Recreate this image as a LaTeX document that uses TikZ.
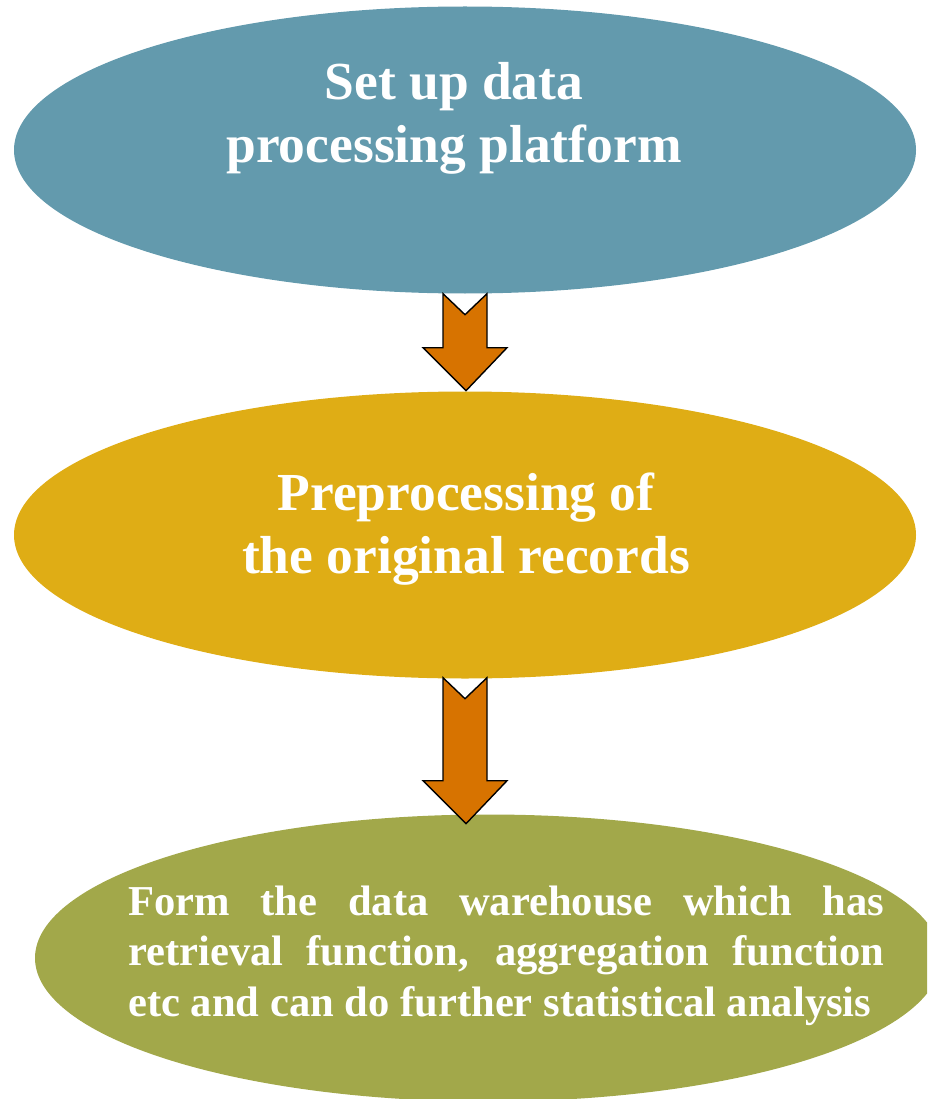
\documentclass[tikz,border=0pt]{standalone}
\usepackage{fontspec}
\setmainfont{Liberation Serif}
\usetikzlibrary{calc,shapes.geometric}
\definecolor{cblue}{HTML}{639AAD}
\definecolor{cgold}{HTML}{DFAD15}
\definecolor{colive}{HTML}{A2A84A}
\definecolor{corange}{HTML}{D77300}
\tikzset{
  stage/.style={ellipse, draw=none, inner sep=0pt, minimum width=902pt, minimum height=287pt},
  bigtxt/.style={text=white, font=\fontsize{53.5}{63}\selectfont\bfseries, inner sep=0pt, anchor=base},
  smalltxt/.style={text=white, font=\fontsize{42.6}{50.5}\selectfont\bfseries, inner sep=0pt, anchor=base west},
  blockarrow/.style={fill=corange, draw=black, line width=1.4pt, line join=miter}
}
\newcommand\downblock[2]{% start coordinate, length
  \draw[blockarrow] ($(#1)+(-22,0)$) -- ($(#1)+(0,21)$) -- ($(#1)+(22,0)$)
    -- ($(#1)+(22,#2-43)$) -- ($(#1)+(42,#2-43)$) -- ($(#1)+(1,#2)$)
    -- ($(#1)+(-42,#2-43)$) -- ($(#1)+(-22,#2-43)$) -- cycle;}
\begin{document}
\begin{tikzpicture}[x=1pt,y=-1pt]
\useasboundingbox (0,0) rectangle (927,1099);
\begin{scope}
\clip (0,0) rectangle (927,1099);
\node[stage, fill=cblue] (e1) at (465,150) {};
\node[stage, fill=cgold] (e2) at (465,535) {};
\node[stage, fill=colive, minimum width=906pt] (e3) at (488,958) {};
\end{scope}
\node[bigtxt] (t1a) at (454,100) {Set up data};
\node[bigtxt] (t1b) at (454,163) {processing platform};
\node[bigtxt] (t2a) at (466,510) {Preprocessing of};
\node[bigtxt] (t2b) at (466,573) {the original records};
\node[smalltxt] (t3) at (128,915) {\parbox[t]{756pt}{\noindent Form the data warehouse which has\linebreak retrieval function, aggregation function\linebreak etc and can do further statistical analysis}};
\coordinate (a1) at (e1.south);
\coordinate (a2) at ($(e2.south)+(0,-1)$);
\downblock{a1}{97}
\downblock{a2}{146}
\end{tikzpicture}
\end{document}
